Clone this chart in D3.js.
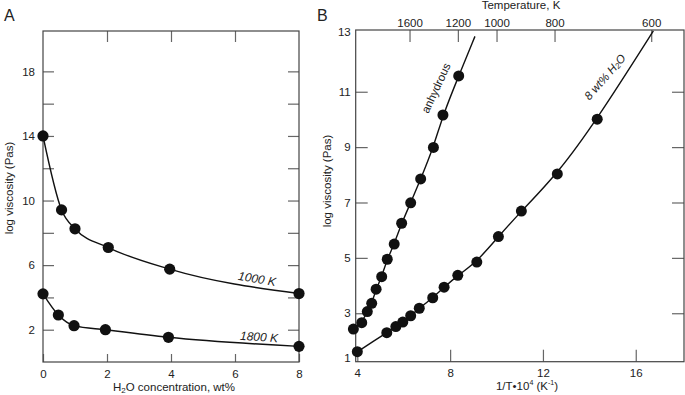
<!DOCTYPE html>
<meta charset="utf-8">
<script src="https://d3js.org/d3.v7.min.js"></script>
<style>
  body { margin: 0; background: #fff; }
  text { font-family: "Liberation Sans", Arial, sans-serif; fill: #222; }
</style>
<div id="my_dataviz"></div>
<script>
// ---- panel A : log viscosity vs water content ----
var water1000 = [0, 0.58, 1.0, 2.04, 3.96, 8];
var visc1000  = [14.0, 9.42, 8.25, 7.09, 5.75, 4.24];
var water1800 = [0, 0.48, 0.97, 1.95, 3.92, 8];
var visc1800  = [4.22, 2.91, 2.25, 2.0, 1.53, 0.97];

// ---- panel B : log viscosity vs 1/T ----
var invTAnhyd = [3.83, 4.19, 4.43, 4.62, 4.81, 5.05, 5.29, 5.59, 5.91, 6.30, 6.73, 7.28, 7.69, 8.37];
var viscAnhyd = [2.43, 2.66, 3.06, 3.36, 3.87, 4.32, 4.95, 5.50, 6.25, 6.99, 7.85, 8.99, 10.16, 11.57];
var invTWet   = [4.00, 5.27, 5.66, 5.96, 6.30, 6.67, 7.25, 7.74, 8.33, 9.15, 10.08, 11.07, 12.62, 14.34];
var viscWet   = [1.61, 2.30, 2.52, 2.68, 2.91, 3.18, 3.56, 3.94, 4.37, 4.85, 5.77, 6.69, 8.03, 10.01];
// where the fitted lines run out at the top of the frame
var anhydLineEnd = [9.07, 13.0];
var wetLineEnd   = [16.76, 13.2];

var tempTicks = [1600, 1200, 1000, 800, 600];

var svg = d3.select("#my_dataviz")
  .append("svg")
    .attr("width", 685)
    .attr("height", 395);

var boxColor = "#444", tickColor = "#666";

function styleAxis(g) {
  g.select(".domain").remove();
  g.selectAll(".tick line").attr("stroke", tickColor).attr("stroke-width", 1.2);
  g.selectAll(".tick text").attr("font-size", "11.5px").attr("fill", "#222")
    .attr("font-family", "Liberation Sans, Arial, sans-serif");
}

// ================= Panel A =================
var xA = d3.scaleLinear().domain([0, 8]).range([43, 299]);
var yA = d3.scaleLinear().domain([0, 20.5]).range([362, 31]);

svg.append("g")
  .attr("transform", "translate(43,0)")
  .call(d3.axisLeft(yA).tickValues(d3.range(2, 19, 2)).tickSize(-11).tickPadding(8)
    .tickFormat(function(d) { return d % 4 == 2 ? d : ""; }))
  .call(styleAxis);
svg.append("g")
  .attr("transform", "translate(299,0)")
  .call(d3.axisRight(yA).tickValues(d3.range(2, 19, 2)).tickSize(-11).tickFormat(""))
  .call(styleAxis);
svg.append("g")
  .attr("transform", "translate(0,362)")
  .call(d3.axisBottom(xA).tickValues([0, 2, 4, 6, 8]).tickSize(-8).tickPadding(8))
  .call(styleAxis);
svg.append("g")
  .attr("transform", "translate(0,31)")
  .call(d3.axisTop(xA).tickValues([2, 4, 6]).tickSize(-11).tickFormat(""))
  .call(styleAxis);

svg.append("rect")
  .attr("x", xA(0)).attr("y", yA(20.5))
  .attr("width", xA(8) - xA(0)).attr("height", yA(0) - yA(20.5))
  .attr("fill", "none").attr("stroke", boxColor).attr("stroke-width", 1.2);

var lineA = d3.line()
  .x(function(d) { return xA(d[0]); })
  .y(function(d) { return yA(d[1]); })
  .curve(d3.curveMonotoneX);

var seriesA = [
  { w: water1000, v: visc1000 },
  { w: water1800, v: visc1800 }
];
seriesA.forEach(function(s) {
  var pts = s.w.map(function(w, i) { return [w, s.v[i]]; });
  svg.append("path")
    .attr("d", lineA(pts))
    .attr("fill", "none").attr("stroke", "#111").attr("stroke-width", 1.4);
  svg.append("g").selectAll("circle")
    .data(pts)
    .enter().append("circle")
      .attr("cx", function(d) { return xA(d[0]); })
      .attr("cy", function(d) { return yA(d[1]); })
      .attr("r", 5.6)
      .attr("fill", "#111");
});

svg.append("text")
  .attr("transform", "translate(257,279) rotate(10)")
  .attr("text-anchor", "middle").attr("dominant-baseline", "central")
  .attr("font-size", "12px").attr("font-style", "italic")
  .text("1000 K");
svg.append("text")
  .attr("transform", "translate(259,337) rotate(4)")
  .attr("text-anchor", "middle").attr("dominant-baseline", "central")
  .attr("font-size", "12px").attr("font-style", "italic")
  .text("1800 K");

svg.append("text")
  .attr("x", 4).attr("y", 21)
  .attr("font-size", "16px")
  .text("A");

svg.append("text")
  .attr("transform", "translate(12.5,188) rotate(-90)")
  .attr("text-anchor", "middle")
  .attr("font-size", "11.5px")
  .text("log viscosity (Pas)");

var xlabA = svg.append("text")
  .attr("x", 174).attr("y", 391)
  .attr("text-anchor", "middle")
  .attr("font-size", "11.5px");
xlabA.append("tspan").text("H");
xlabA.append("tspan").attr("font-size", "8px").attr("dy", 2).text("2");
xlabA.append("tspan").attr("dy", -2).text("O concentration, wt%");

// ================= Panel B =================
var xB = d3.scaleLinear().domain([3.93, 18.08]).range([355.7, 684]);
var yB = d3.scaleLinear().domain([1.25, 13.23]).range([361.7, 30]);

var leftB = svg.append("g")
  .attr("transform", "translate(355.7,0)")
  .call(d3.axisLeft(yB).tickValues([1, 3, 5, 7, 9, 11, 13]).tickSize(-12).tickPadding(5))
  .call(styleAxis);
// the end labels sit at the frame edges, without tick marks
leftB.selectAll(".tick")
  .filter(function(d) { return d == 1 || d == 13; })
  .attr("transform", function(d) {
    return "translate(0," + (d == 1 ? yB.range()[0] - 3.5 : yB.range()[1] + 2.5) + ")";
  })
  .select("line").remove();

svg.append("g")
  .attr("transform", "translate(684,0)")
  .call(d3.axisRight(yB).tickValues([3, 5, 7, 9, 11]).tickSize(-12).tickFormat(""))
  .call(styleAxis);
svg.append("g")
  .attr("transform", "translate(0,361.7)")
  .call(d3.axisBottom(xB).tickValues([4, 8, 12, 16]).tickSize(-12).tickPadding(7))
  .call(styleAxis);
svg.append("g")
  .attr("transform", "translate(0,30)")
  .call(d3.axisTop(xB).tickValues(tempTicks.map(function(t) { return 1e4 / t; }))
    .tickSize(-12).tickPadding(3)
    .tickFormat(function(d, i) { return tempTicks[i]; }))
  .call(styleAxis);

svg.append("rect")
  .attr("x", xB(3.93)).attr("y", yB(13.23))
  .attr("width", xB(18.08) - xB(3.93)).attr("height", yB(1.25) - yB(13.23))
  .attr("fill", "none").attr("stroke", boxColor).attr("stroke-width", 1.2);

var lineB = d3.line()
  .x(function(d) { return xB(d[0]); })
  .y(function(d) { return yB(d[1]); })
  .curve(d3.curveBasis);

var seriesB = [
  { t: invTAnhyd, v: viscAnhyd, end: anhydLineEnd },
  { t: invTWet, v: viscWet, end: wetLineEnd }
];
seriesB.forEach(function(s) {
  var pts = s.t.map(function(t, i) { return [t, s.v[i]]; });
  svg.append("path")
    .attr("d", lineB(pts.concat([s.end])))
    .attr("fill", "none").attr("stroke", "#111").attr("stroke-width", 1.4);
  svg.append("g").selectAll("circle")
    .data(pts)
    .enter().append("circle")
      .attr("cx", function(d) { return xB(d[0]); })
      .attr("cy", function(d) { return yB(d[1]); })
      .attr("r", 5.5)
      .attr("fill", "#111");
});

svg.append("text")
  .attr("transform", "translate(436,88) rotate(-65)")
  .attr("text-anchor", "middle").attr("dominant-baseline", "central")
  .attr("font-size", "11.5px")
  .text("anhydrous");

var wetLab = svg.append("text")
  .attr("transform", "translate(605,77) rotate(-49)")
  .attr("text-anchor", "middle").attr("dominant-baseline", "central")
  .attr("font-size", "11.5px").attr("font-style", "italic");
wetLab.append("tspan").text("8 wt% H");
wetLab.append("tspan").attr("font-size", "8px").attr("dy", 2).text("2");
wetLab.append("tspan").attr("dy", -2).text("O");

svg.append("text")
  .attr("x", 317).attr("y", 21)
  .attr("font-size", "16px")
  .text("B");

svg.append("text")
  .attr("x", 521).attr("y", 9)
  .attr("text-anchor", "middle")
  .attr("font-size", "11.5px")
  .text("Temperature, K");

svg.append("text")
  .attr("transform", "translate(330.5,181) rotate(-90)")
  .attr("text-anchor", "middle")
  .attr("font-size", "11.5px")
  .text("log viscosity (Pas)");

var xlabB = svg.append("text")
  .attr("x", 527).attr("y", 390)
  .attr("text-anchor", "middle")
  .attr("font-size", "11.5px");
xlabB.append("tspan").text("1/T\u202210");
xlabB.append("tspan").attr("font-size", "7px").attr("dy", -5).text("4");
xlabB.append("tspan").attr("dy", 5).text(" (K");
xlabB.append("tspan").attr("font-size", "7px").attr("dy", -5).text("-1");
xlabB.append("tspan").attr("dy", 5).text(")");
</script>
